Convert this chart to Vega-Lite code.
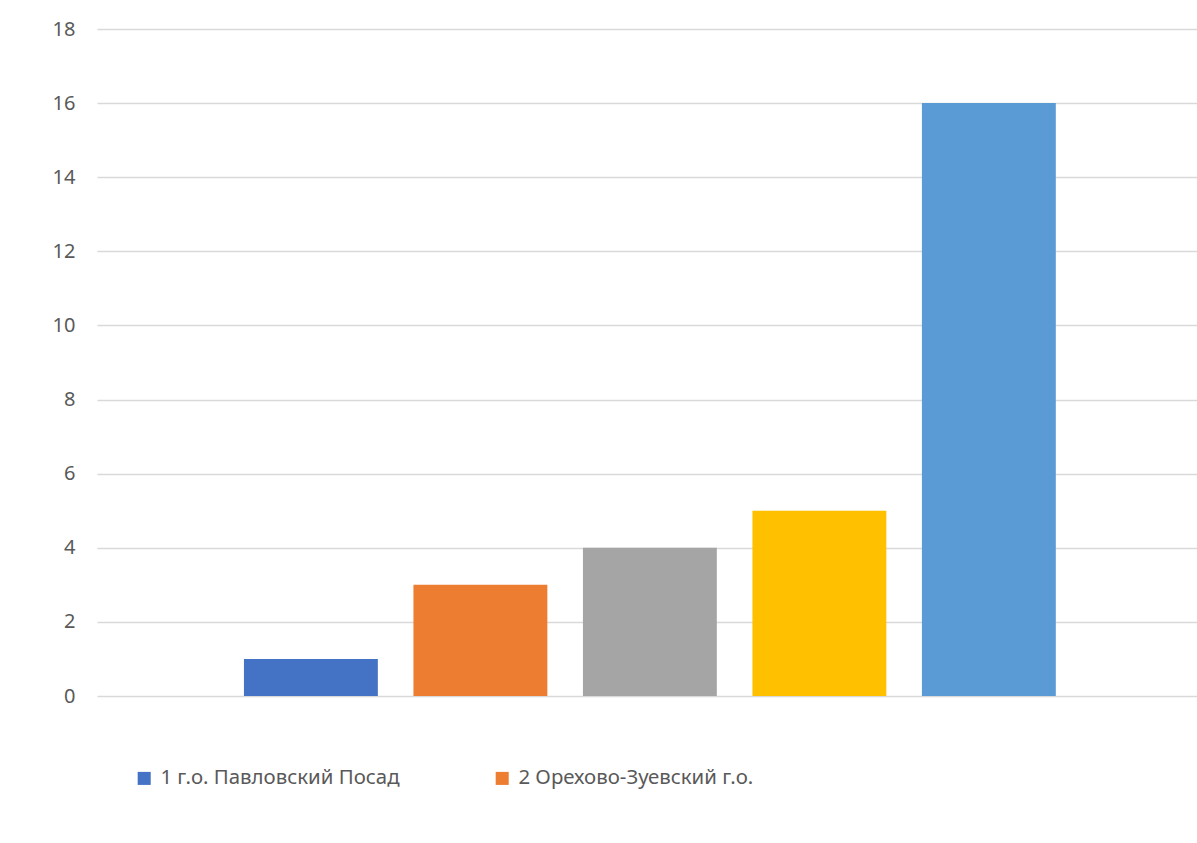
{
  "$schema": "https://vega.github.io/schema/vega-lite/v6.json",
  "width": 1100,
  "height": 667,
  "autosize": {"type": "none"},
  "padding": {"left": 97, "top": 29, "right": 0, "bottom": 147},
  "background": "white",
  "config": {"view": {"stroke": null}, "font": "Noto Sans"},
  "data": {"values": [
    {"series": "1 г.о. Павловский Посад", "value": 1},
    {"series": "2 Орехово-Зуевский г.о.", "value": 3},
    {"series": "3", "value": 4},
    {"series": "4", "value": 5},
    {"series": "5", "value": 16}
  ]},
  "mark": {"type": "bar"},
  "encoding": {
    "x": {"field": "series", "type": "nominal", "sort": null,
      "scale": {"paddingInner": 0.21, "paddingOuter": 0.85, "align": 0.51},
      "axis": null},
    "y": {"field": "value", "type": "quantitative",
      "scale": {"domain": [0, 18], "nice": false},
      "axis": {"values": [0,2,4,6,8,10,12,14,16,18], "title": null, "domain": false, "ticks": false,
        "gridColor": "#d9d9d9", "gridWidth": 1.3, "labelColor": "#595959", "labelFontSize": 20,
        "labelPadding": 22, "labelFont": "Noto Sans"}},
    "color": {"field": "series", "type": "nominal", "sort": null,
      "scale": {"range": ["#4472C4", "#ED7D31", "#A5A5A5", "#FFC000", "#5B9BD5"]},
      "legend": {"values": ["1 г.о. Павловский Посад", "2 Орехово-Зуевский г.о."],
        "orient": "none", "legendX": 37, "legendY": 739, "direction": "horizontal",
        "title": null, "symbolType": "square", "symbolSize": 170, "symbolStrokeWidth": 0,
        "labelFontSize": 20.4, "labelColor": "#595959", "labelFont": "Noto Sans", "labelLimit": 0,
        "columnPadding": 92, "labelOffset": 6, "symbolOpacity": 1}}
  }
}
